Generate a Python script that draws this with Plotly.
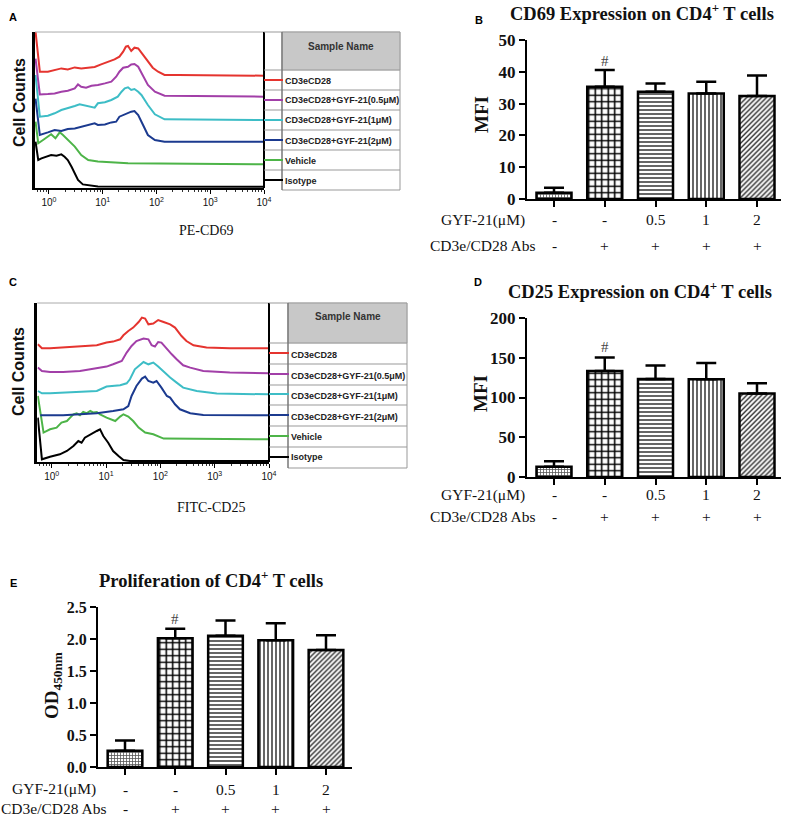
import plotly.graph_objects as go
import math

W, H = 787, 819
def X(px): return px / W
def Y(py): return 1 - py / H

SERIF = "Liberation Serif"
SANS = "Liberation Sans"

# ---------------- data ----------------
SAMPLE_NAMES = ["CD3eCD28", "CD3eCD28+GYF-21(0.5μM)", "CD3eCD28+GYF-21(1μM)",
                "CD3eCD28+GYF-21(2μM)", "Vehicle", "Isotype"]
DECADE_TICKS = [0, 1, 2, 3, 4]
DECADE_LABELS = ["10<sup>0</sup>", "10<sup>1</sup>", "10<sup>2</sup>", "10<sup>3</sup>", "10<sup>4</sup>"]

# Panel A (PE-CD69): x = log10 fluorescence, y = counts above each curve's baseline
a_red_x = [-0.25, -0.17, -0.02, 0.10, 0.23, 0.35, 0.48, 0.60, 0.73, 0.85, 0.97, 1.10, 1.22, 1.31, 1.38, 1.43, 1.47, 1.53, 1.59, 1.66, 1.75, 1.84, 1.93, 2.03, 2.15, 2.40, 4.0]
a_red_y = [44, 4, 4, 5.7, 7.3, 6.3, 8.3, 7.3, 8, 8.7, 11.3, 14, 16.3, 19, 24, 29, 29.7, 24.7, 28, 27.3, 20.7, 14, 8, 4, 0.7, 0.7, 0]
a_purple_x = [-0.25, -0.17, -0.02, 0.105, 0.23, 0.35, 0.48, 0.54, 0.60, 0.69, 0.79, 0.91, 1.04, 1.16, 1.25, 1.31, 1.38, 1.47, 1.53, 1.59, 1.66, 1.75, 1.84, 1.97, 2.15, 4.0]
a_purple_y = [38, 2.3, 2.7, 3.3, 5, 6, 8.3, 12.3, 10, 9, 11, 11.7, 13.3, 15, 20, 25, 29, 30, 32.3, 32.7, 30, 20, 11.7, 5, 1, 0]
a_cyan_x = [-0.25, -0.17, -0.02, 0.105, 0.23, 0.35, 0.48, 0.57, 0.69, 0.79, 0.85, 0.91, 1.04, 1.16, 1.28, 1.35, 1.41, 1.47, 1.53, 1.59, 1.66, 1.72, 1.84, 1.97, 2.15, 4.0]
a_cyan_y = [45, 3.3, 4.3, 6.7, 10, 11.7, 14, 15.7, 14.3, 13.3, 12.3, 16.7, 17.7, 20, 23.3, 28.3, 31.7, 32.7, 30, 31, 28.3, 25, 15, 5.7, 0.7, 0]
a_blue_x = [-0.25, -0.17, -0.02, 0.105, 0.23, 0.35, 0.48, 0.60, 0.73, 0.85, 0.91, 1.04, 1.16, 1.25, 1.31, 1.41, 1.47, 1.53, 1.59, 1.66, 1.75, 1.84, 1.97, 2.15, 4.0]
a_blue_y = [43, 6.7, 9.3, 11.7, 10.7, 12.7, 13.3, 15, 16.7, 18.3, 16.7, 17.3, 19.3, 20, 25, 27.3, 29.3, 30, 30.7, 26.7, 16.7, 6.7, 1.7, 0, 0]
a_green_x = [-0.25, -0.2, -0.11, -0.02, 0.04, 0.12, 0.2, 0.26, 0.35, 0.48, 0.60, 0.73, 0.91, 1.47, 4.0]
a_green_y = [42.7, 21, 24.3, 27.7, 30, 26, 32, 29.3, 24.3, 17.7, 9.3, 4.3, 2.7, 1, 0]
a_black_x = [-0.25, -0.2, -0.14, -0.05, 0.04, 0.14, 0.23, 0.29, 0.35, 0.42, 0.48, 0.54, 0.63, 0.79, 0.91, 4.0]
a_black_y = [45, 26.7, 28.3, 30, 31.7, 31, 32.3, 30, 26.7, 20, 13.3, 6.7, 2.3, 1, 0.3, 0]

# Panel C (FITC-CD25)
c_red_x = [-0.255, -0.18, -0.03, 0.21, 0.52, 0.83, 1.01, 1.13, 1.26, 1.32, 1.41, 1.50, 1.60, 1.66, 1.72, 1.78, 1.87, 1.96, 2.06, 2.18, 2.27, 2.39, 2.48, 2.61, 2.85, 3.28, 4.0]
c_red_y = [4, 0, 0, 0.7, 1.7, 3, 5.7, 6.7, 9, 13, 17.3, 20.7, 26.3, 30.7, 29.7, 24, 24.7, 28.3, 26.3, 24, 20.7, 12.3, 7.3, 3, 0.7, 0, 0]
c_purple_x = [-0.255, -0.18, -0.03, 0.21, 0.52, 0.83, 1.01, 1.13, 1.29, 1.38, 1.47, 1.56, 1.69, 1.78, 1.84, 1.90, 1.96, 2.02, 2.12, 2.21, 2.30, 2.42, 2.55, 2.79, 3.28, 4.0]
c_purple_y = [5.7, 2.3, 1.3, 1.3, 2.3, 4.7, 6.7, 9, 12.3, 20.7, 27.3, 32.3, 34.7, 34, 28, 26.7, 31.3, 30.7, 24, 19, 14, 8, 5.7, 2.3, 0.7, 0]
c_cyan_x = [-0.255, -0.18, -0.03, 0.21, 0.52, 0.83, 1.01, 1.13, 1.26, 1.38, 1.44, 1.53, 1.63, 1.69, 1.78, 1.87, 1.96, 2.06, 2.18, 2.30, 2.42, 2.67, 3.04, 4.0]
c_cyan_y = [3.3, 1, 1, 1.7, 2.3, 3.3, 7.7, 8.3, 9, 11, 15, 25, 30, 32.3, 30, 31.7, 27.7, 22.3, 16.7, 11.7, 6.7, 3.3, 0.7, 0]
c_blue_x = [-0.21, -0.03, 0.21, 0.52, 0.83, 1.13, 1.32, 1.41, 1.47, 1.56, 1.66, 1.72, 1.78, 1.87, 1.93, 2.02, 2.12, 2.18, 2.27, 2.36, 2.55, 2.79, 4.0]
c_blue_y = [0, 0, 0, 1, 2, 4.3, 6, 9.3, 19.3, 29.3, 36.7, 38.7, 34.3, 32.7, 34.3, 27.7, 19.3, 17.7, 11, 6, 2, 0.3, 0]
c_green_x = [-0.255, -0.15, -0.03, 0.09, 0.18, 0.28, 0.34, 0.40, 0.46, 0.52, 0.58, 0.64, 0.71, 0.77, 0.83, 0.89, 1.01, 1.17, 1.26, 1.32, 1.41, 1.50, 1.60, 1.72, 1.87, 2.06, 4.0]
c_green_y = [43.3, 6.7, 10, 11.7, 16.7, 18.3, 21.7, 25, 26, 24, 27.3, 26, 28.3, 26.7, 27.3, 25, 21.7, 18.3, 22.7, 25, 22.7, 18.3, 11.7, 6.7, 5, 0.7, 0]
c_black_x = [-0.255, -0.18, -0.03, 0.15, 0.28, 0.40, 0.49, 0.55, 0.61, 0.71, 0.83, 0.89, 0.95, 1.04, 1.13, 1.23, 1.32, 1.44, 4.0]
c_black_y = [43.3, 1.7, 4.3, 6.7, 10, 15, 20, 18.3, 23.3, 26.7, 30, 31.7, 25, 18.3, 10, 5, 1, 0, 0]

# Bar panels
GROUP_GYF = ["-", "-", "0.5", "1", "2"]
GROUP_CD3 = ["-", "+", "+", "+", "+"]
cd69_mfi = [2.0, 35.3, 33.7, 33.2, 32.4]
cd69_sd = [1.5, 5.3, 2.6, 3.7, 6.4]
cd25_mfi = [12.9, 133.4, 123.3, 123.0, 105.0]
cd25_sd = [6.8, 16.8, 16.8, 20.4, 13.0]
od450 = [0.255, 2.01, 2.05, 1.98, 1.83]
od450_sd = [0.16, 0.15, 0.24, 0.265, 0.23]

# ---------------- styles ----------------
CURVE_COLORS = ["#e5342f", "#a23fa8", "#3dbdc6", "#1b3a8f", "#4db448", "#000000"]
A_OFFSETS = [112.3, 91.3, 68, 46.3, 23.7, 1.3]
C_OFFSETS = [113.7, 88.7, 67.7, 46.7, 22.7, 1.0]

fig = go.Figure()
ann = []
shapes = []

def txt(s, x, y, size, family=SERIF, bold=False, color="#111", xanchor="center",
        yanchor="middle", angle=0):
    ann.append(dict(text=s, x=X(x), y=Y(y), xref="paper", yref="paper", showarrow=False,
                    font=dict(family=family, size=size, color=color,
                              weight="bold" if bold else "normal"),
                    xanchor=xanchor, yanchor=yanchor, textangle=angle))

def line(x0, y0, x1, y1, color="#888", width=1):
    shapes.append(dict(type="line", xref="paper", yref="paper", x0=X(x0), y0=Y(y0),
                       x1=X(x1), y1=Y(y1), line=dict(color=color, width=width)))

def rect(x0, y0, x1, y1, fill=None, color="#999", width=1):
    shapes.append(dict(type="rect", xref="paper", yref="paper", x0=X(x0), y0=Y(y0),
                       x1=X(x1), y1=Y(y1), fillcolor=fill or "rgba(0,0,0,0)",
                       line=dict(color=color, width=width), layer="below" if fill else "above"))

minor_vals = [math.log10(k) + d for d in range(-1, 4) for k in range(2, 10)]
minor_vals = [v for v in minor_vals if v > -0.26]

# ---------------- histogram panels ----------------
def hist_panel(n, curves, offsets, left, right, top, bottom, xmin, ytop,
               tbl_left, tbl_text, tbl_right, tbl_bottom, hdr_bottom, seps, legend_ys, text_ys,
               letter, letter_y, xlabel, xlabel_xy, cc_y):
    xa = "x" if n == 1 else f"x{n}"
    ya = "y" if n == 1 else f"y{n}"
    for (xs, ys), off, col in reversed(list(zip(curves, offsets, CURVE_COLORS))):
        fig.add_trace(go.Scatter(x=xs, y=[off + v for v in ys], mode="lines",
                                 line=dict(color=col, width=2), xaxis=xa, yaxis=ya,
                                 showlegend=False, hoverinfo="skip"))
    key = "" if n == 1 else str(n)
    fig.layout["xaxis" + key] = dict(domain=[X(left), X(right)], range=[xmin, 4.0], anchor=ya,
                                     tickvals=DECADE_TICKS, ticktext=DECADE_LABELS,
                                     ticks="outside", ticklen=4, tickwidth=1, tickcolor="black",
                                     minor=dict(tickvals=minor_vals, ticks="outside", ticklen=2,
                                                tickcolor="#333"),
                                     showline=True, linecolor="black", linewidth=1.5,
                                     showgrid=False, zeroline=False, automargin=False,
                                     tickfont=dict(family=SANS, size=10, color="#111"))
    fig.layout["yaxis" + key] = dict(domain=[Y(bottom), Y(top)], range=[0, ytop], anchor=xa,
                                     showline=True, linecolor="black", linewidth=2.5,
                                     showticklabels=False, ticks="", showgrid=False,
                                     zeroline=False, automargin=False)
    # frame
    line(left, top, right, top, "#aaa", 1)
    line(right, top, right, bottom, "black", 2)
    # table
    rect(tbl_text, top, tbl_right, hdr_bottom, fill="#c8c8c8", color="#c8c8c8")
    rect(tbl_text, top, tbl_right, tbl_bottom, color="#999", width=1)
    line(tbl_left, top, tbl_text, top, "#999", 1)
    for s in seps:
        line(tbl_left, s, tbl_right, s, "#999", 1)
    line(tbl_text, top, tbl_text, tbl_bottom, "#666", 1)
    for ly, col in zip(legend_ys, CURVE_COLORS):
        line(tbl_left, ly, tbl_text + 1, ly, col, 2)
    for ty, name in zip(text_ys, SAMPLE_NAMES):
        txt(name, tbl_text + 1, ty, 9, SANS, True, "#222", xanchor="left")
    txt("Sample Name", (tbl_text + tbl_right) / 2, top + 14, 10, SANS, True, "#333")
    txt(letter, 13, letter_y, 11, SANS, True, "#000")
    txt("Cell Counts", 19, cc_y, 16, SANS, True, "#111", angle=-90)
    txt(xlabel, xlabel_xy[0], xlabel_xy[1], 14, SERIF, False, "#111")

hist_panel(1,
           [(a_red_x, a_red_y), (a_purple_x, a_purple_y), (a_cyan_x, a_cyan_y),
            (a_blue_x, a_blue_y), (a_green_x, a_green_y), (a_black_x, a_black_y)],
           A_OFFSETS, 35, 264, 32, 188, -0.26, 156,
           264, 282, 400, 190, 70, [70, 90, 110, 130, 150, 170],
           [80, 100, 120, 140, 160, 180], [81, 100, 120, 141, 161, 181],
           "A", 17, "PE-CD69", (206, 230), 103)

hist_panel(2,
           [(c_red_x, c_red_y), (c_purple_x, c_purple_y), (c_cyan_x, c_cyan_y),
            (c_blue_x, c_blue_y), (c_green_x, c_green_y), (c_black_x, c_black_y)],
           C_OFFSETS, 37.3, 269, 303, 462, -0.265, 159,
           269, 288, 407, 468, 343, [343, 364, 385, 405, 426, 447],
           [353, 374, 394, 415, 436, 457], [355, 376, 396, 417, 437, 457],
           "C", 282, "FITC-CD25", (211, 507), 372)

# ---------------- bar panels ----------------
PATTERN = dict(shape=["+", "+", "-", "|", "/"], size=[3, 6.5, 4, 4, 3.5],
               solidity=[0.45, 0.42, 0.3, 0.3, 0.38],
               fgcolor=["#555", "#000", "#000", "#000", "#222"], bgcolor="white", fillmode="replace")

def bar_panel(n, vals, errs, ax_left, ax_right, first_center, spacing, y0px, ytop_px, ymax, dtick,
              tickfmt, title, title_xy, letter, letter_xy, ylab, ylab_xy, hash_y, row1_y, row2_y,
              tick_size):
    xa, ya = f"x{n}", f"y{n}"
    fig.add_trace(go.Bar(x=list(range(len(vals))), y=vals, width=0.69, xaxis=xa, yaxis=ya,
                         marker=dict(color="white", pattern=PATTERN,
                                     line=dict(color="black", width=2.5)),
                         error_y=dict(type="data", symmetric=False, array=errs,
                                      arrayminus=[0] * len(vals), color="black",
                                      thickness=2.5, width=10),
                         showlegend=False, hoverinfo="skip"))
    xmin = -(first_center - ax_left) / spacing
    xmax = (ax_right - first_center) / spacing
    fig.layout[f"xaxis{n}"] = dict(domain=[X(ax_left), X(ax_right)], range=[xmin, xmax],
                                   anchor=ya, tickvals=list(range(len(vals))),
                                   showticklabels=False, ticks="outside", ticklen=6,
                                   tickwidth=2, tickcolor="black", showline=True,
                                   linecolor="black", linewidth=2, showgrid=False,
                                   zeroline=False, automargin=False)
    fig.layout[f"yaxis{n}"] = dict(domain=[Y(y0px), Y(ytop_px)], range=[0, ymax], anchor=xa,
                                   dtick=dtick, tickformat=tickfmt, ticks="outside", ticklen=6,
                                   tickwidth=2, tickcolor="black", showline=True,
                                   linecolor="black", linewidth=2, showgrid=False,
                                   zeroline=False, automargin=False,
                                   tickfont=dict(family=SERIF, size=tick_size, color="#111",
                                                 weight="bold"))
    txt(title, title_xy[0], title_xy[1], 18.5, SERIF, True, "#111")
    txt(letter, letter_xy[0], letter_xy[1], 11, SANS, True, "#000")
    txt(ylab, ylab_xy[0], ylab_xy[1], 19, SERIF, True, "#111", angle=-90)
    # significance mark
    ann.append(dict(text="#", x=1, y=Y(hash_y), xref=xa, yref="paper", showarrow=False,
                    font=dict(family=SERIF, size=15, color="#444"), yanchor="middle"))
    # group rows
    label_x = ax_left - 44
    txt("GYF-21(μM)", label_x, row1_y, 15.5, SERIF, False, "#111")
    txt("CD3e/CD28 Abs", label_x, row2_y, 15.5, SERIF, False, "#111")
    for i, (g, c) in enumerate(zip(GROUP_GYF, GROUP_CD3)):
        ann.append(dict(text=g, x=i, y=Y(row1_y), xref=xa, yref="paper", showarrow=False,
                        font=dict(family=SERIF, size=15.5, color="#111"), yanchor="middle"))
        ann.append(dict(text=c, x=i, y=Y(row2_y), xref=xa, yref="paper", showarrow=False,
                        font=dict(family=SERIF, size=15.5, color="#111"), yanchor="middle"))

bar_panel(3, cd69_mfi, cd69_sd, 527, 781, 554, 50.75, 199, 40, 50, 10, "d",
          "CD69 Expression on CD4<sup>+</sup> T cells", (642, 12), "B", (479, 20),
          "MFI", (482, 115), 61, 220, 245, 17)
bar_panel(4, cd25_mfi, cd25_sd, 527, 781, 554, 50.75, 477, 318, 200, 50, "d",
          "CD25 Expression on CD4<sup>+</sup> T cells", (640, 290), "D", (478, 282),
          "MFI", (480, 394), 347, 495, 516, 17)
bar_panel(5, od450, od450_sd, 98, 352, 125, 50.25, 767, 607, 2.5, 0.5, ".1f",
          "Proliferation of CD4<sup>+</sup> T cells", (211, 579), "E", (13, 583),
          "OD<sub>450nm</sub>", (53, 685), 619, 789, 808, 16)

fig.update_layout(width=W, height=H,
                  margin=dict(l=0, r=0, t=0, b=0, pad=0, autoexpand=False),
                  paper_bgcolor="white", plot_bgcolor="white",
                  annotations=ann, shapes=shapes, showlegend=False)

fig.write_html("out.html", config={"displayModeBar": False},
               post_script="document.body.style.margin='0';")
